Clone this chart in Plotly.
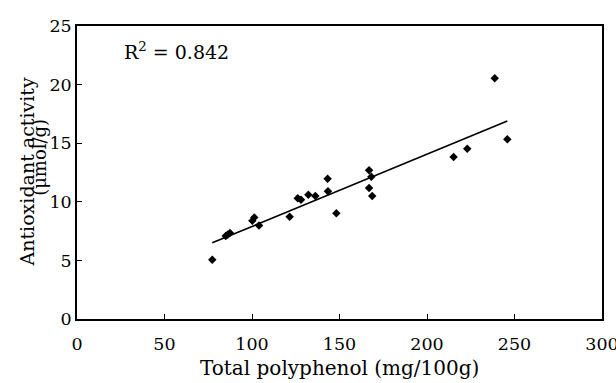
import plotly.graph_objects as go

# Data
polyphenol = [77.3, 85.0, 86.1, 87.4, 100.2, 101.3, 104.0, 121.5, 126.1, 128.0,
              132.2, 136.2, 143.2, 143.4, 148.2, 166.9, 168.2, 166.9, 168.7,
              215.2, 223.0, 238.7, 245.9]
antioxidant = [5.06, 7.08, 7.2, 7.34, 8.39, 8.67, 7.97, 8.73, 10.3, 10.18,
               10.6, 10.5, 11.97, 10.9, 9.02, 12.69, 12.14, 11.18, 10.5,
               13.82, 14.53, 20.54, 15.33]
fit_slope = 0.0616
fit_intercept = 1.74
r_squared = "0.842"
x_ticks = [0, 50, 100, 150, 200, 250, 300]
y_ticks = [0, 5, 10, 15, 20, 25]

FONT = "DejaVu Serif"

x_fit = [min(polyphenol), max(polyphenol)]
y_fit = [fit_intercept + fit_slope * v for v in x_fit]

fig = go.Figure()
fig.add_trace(go.Scatter(x=x_fit, y=y_fit, mode="lines",
                         line=dict(color="black", width=1.6),
                         showlegend=False, hoverinfo="skip"))
fig.add_trace(go.Scatter(x=polyphenol, y=antioxidant, mode="markers",
                         marker=dict(symbol="diamond", size=6.5, color="black"),
                         showlegend=False))

axis_common = dict(showline=True, linecolor="black", linewidth=1.5, mirror=True,
                   ticks="inside", ticklen=5, tickwidth=1, tickcolor="black",
                   showgrid=False, zeroline=False, automargin=False,
                   ticklabeloverflow="allow",
                   tickfont=dict(family=FONT, size=17.5, color="black"))

fig.update_xaxes(range=[0, 300], tickvals=x_ticks, ticklabelstandoff=8,
                 **axis_common)
fig.update_yaxes(range=[0, 25], tickvals=y_ticks, ticklabelstandoff=0,
                 **axis_common)

fig.add_annotation(text="Total polyphenol (mg/100g)",
                   xref="paper", yref="paper", x=0.5, y=0,
                   xanchor="center", yanchor="middle", yshift=-49,
                   showarrow=False,
                   font=dict(family=FONT, size=20, color="black"))
fig.add_annotation(text="Antioxidant activity", textangle=-90,
                   xref="paper", yref="paper", x=0, y=0.5,
                   xanchor="center", yanchor="middle", xshift=-51,
                   showarrow=False,
                   font=dict(family=FONT, size=19, color="black"))
fig.add_annotation(text="(μmol/g)", textangle=-90,
                   xref="paper", yref="paper", x=0, y=0.55,
                   xanchor="center", yanchor="middle", xshift=-37,
                   showarrow=False,
                   font=dict(family=FONT, size=18, color="black"))
fig.add_annotation(text="R<sup>2</sup> = " + r_squared,
                   xref="paper", yref="paper", x=0.086, y=0.915,
                   xanchor="left", yanchor="middle", showarrow=False,
                   font=dict(family=FONT, size=19, color="black"))

fig.update_layout(width=616, height=383,
                  margin=dict(l=77, r=14, t=26, b=64),
                  paper_bgcolor="white", plot_bgcolor="white")

# remove the page body's default 8px margin so the figure fills the window
fig.write_html("out.html",
               config={"displayModeBar": False},
               post_script="document.body.style.margin='0';"
                           "document.body.style.overflow='hidden';")
